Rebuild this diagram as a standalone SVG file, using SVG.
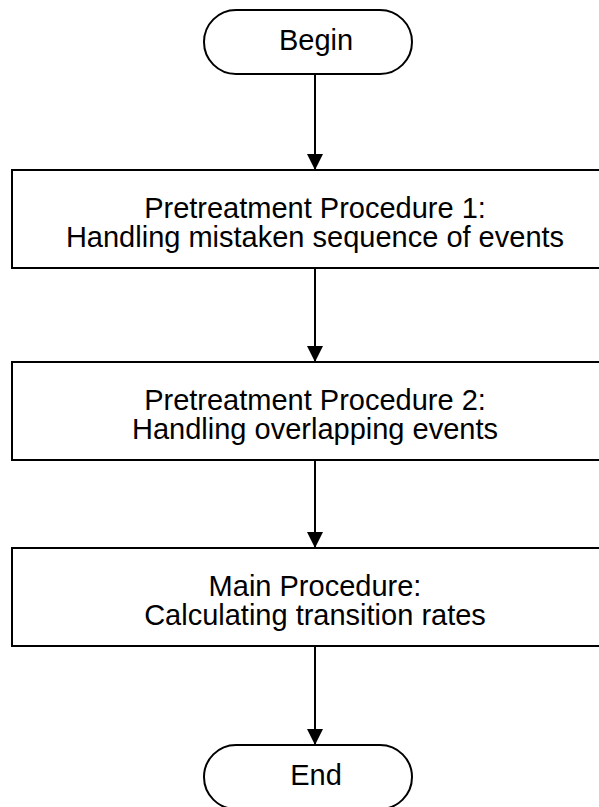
<svg xmlns="http://www.w3.org/2000/svg" width="599" height="807" viewBox="0 0 599 807">
  <style>
    .shape { fill: #ffffff; stroke: #000000; stroke-width: 2; }
    .label { font-family: "Liberation Sans", Arial, sans-serif; font-size: 29px; fill: #000000; text-anchor: middle; }
    .edge { stroke: #000000; stroke-width: 2; fill: none; marker-end: url(#arrow); }
  </style>
  <defs>
    <!-- filled arrowhead, drawn along +x and rotated to follow each connector -->
    <marker id="arrow" markerWidth="16" markerHeight="16" refX="16" refY="8" orient="auto" markerUnits="userSpaceOnUse" viewBox="0 0 16 16">
      <path d="M0,0 L16,8 L0,16 Z" fill="#000000"/>
    </marker>
  </defs>
  <rect width="599" height="807" fill="#ffffff"/>

  <g id="connectors">
    <path d="M315,74 V170" class="edge"/>
    <path d="M315,268 V362" class="edge"/>
    <path d="M315,460 V548" class="edge"/>
    <path d="M315,646 V745" class="edge"/>
  </g>

  <g id="begin">
    <rect class="shape" x="204" y="10" width="208" height="64" rx="32"/>
    <text class="label" x="316" y="50">Begin</text>
  </g>

  <g id="pretreatment1">
    <rect class="shape" x="12" y="170" width="606" height="98"/>
    <text class="label" x="315" y="218">Pretreatment Procedure 1:</text>
    <text class="label" x="315" y="247">Handling mistaken sequence of events</text>
  </g>

  <g id="pretreatment2">
    <rect class="shape" x="12" y="362" width="606" height="98"/>
    <text class="label" x="315" y="410">Pretreatment Procedure 2:</text>
    <text class="label" x="315" y="439">Handling overlapping events</text>
  </g>

  <g id="main">
    <rect class="shape" x="12" y="548" width="606" height="98"/>
    <text class="label" x="315" y="596">Main Procedure:</text>
    <text class="label" x="315" y="625">Calculating transition rates</text>
  </g>

  <g id="end">
    <rect class="shape" x="204" y="745" width="208" height="64" rx="32"/>
    <text class="label" x="316" y="785">End</text>
  </g>
</svg>
